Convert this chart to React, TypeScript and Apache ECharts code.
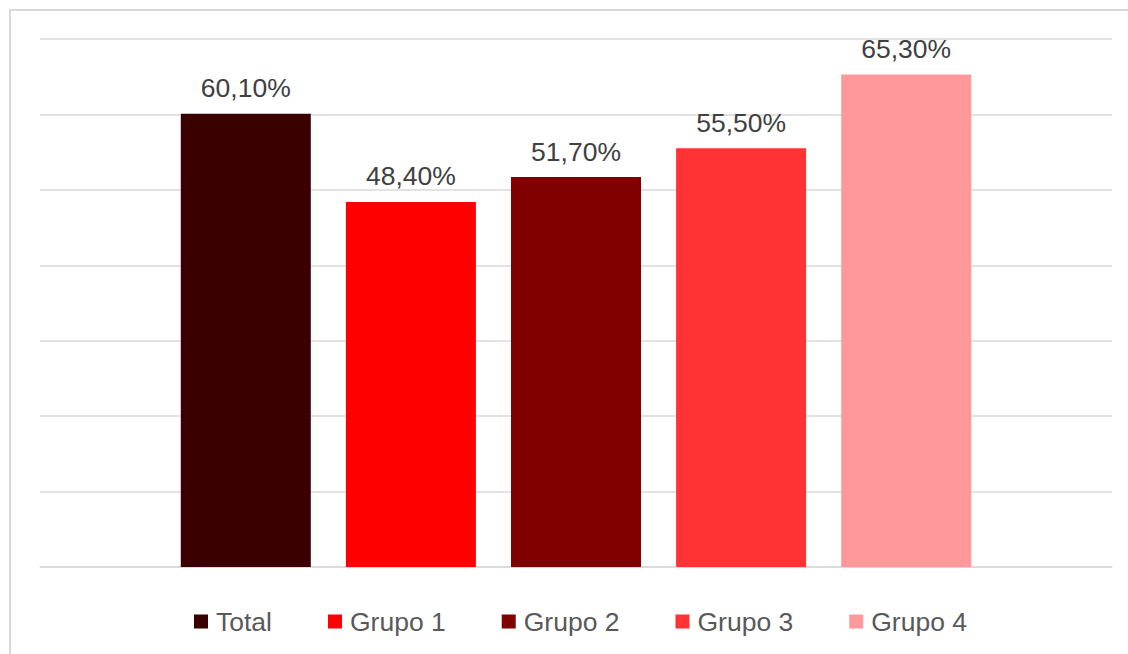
import React, { useEffect, useRef } from "react";
import * as echarts from "echarts";

const seriesNames = ["Total", "Grupo 1", "Grupo 2", "Grupo 3", "Grupo 4"];
const seriesValues = [60.1, 48.4, 51.7, 55.5, 65.3];
const seriesColors = ["#3a0000", "#ff0000", "#800000", "#ff3333", "#ff9999"];
const categories = [""];

export default function App() {
  const ref = useRef<HTMLDivElement>(null);
  useEffect(() => {
    if (!ref.current) return;
    const chart = echarts.init(ref.current, undefined, { renderer: "svg" });
    const font = "'Liberation Sans', Arial, sans-serif";
    chart.setOption({
      animation: false,
      backgroundColor: "#ffffff",
      textStyle: { fontFamily: font },
      graphic: [
        {
          type: "rect",
          shape: { x: 10, y: 10, width: 1200, height: 700 },
          style: { fill: "none", stroke: "#d9d9d9", lineWidth: 2 },
          silent: true,
        },
      ],
      grid: { left: 40, right: 16, top: 39, bottom: 87 },
      legend: {
        bottom: 14,
        left: 189,
        icon: "rect",
        itemWidth: 14,
        itemHeight: 14,
        itemGap: 56,
        textStyle: {
          color: "#595959",
          fontSize: 26.5,
          fontFamily: font,
          padding: [0, 0, 0, 3],
        },
        data: seriesNames,
      },
      xAxis: {
        type: "category",
        data: categories,
        axisLine: { show: true, lineStyle: { color: "#d9d9d9", width: 1.5 } },
        axisTick: { show: false },
        axisLabel: { show: false },
      },
      yAxis: {
        type: "value",
        min: 0,
        max: 70,
        interval: 10,
        axisLabel: { show: false },
        axisLine: { show: false },
        axisTick: { show: false },
        splitLine: { lineStyle: { color: "#d9d9d9", width: 1.5 } },
      },
      series: seriesNames.map((name, i) => ({
        name,
        type: "bar",
        data: [seriesValues[i]],
        barWidth: 130,
        barGap: "27%",
        itemStyle: { color: seriesColors[i] },
        label: {
          show: true,
          position: "top",
          distance: 12,
          color: "#404040",
          fontSize: 26.5,
          fontFamily: font,
          formatter: (p: any) => p.value.toFixed(2).replace(".", ",") + "%",
        },
      })),
    });
    return () => chart.dispose();
  }, []);
  return (
    <div
      ref={ref}
      style={{ position: "fixed", left: 0, top: 0, width: 1128, height: 654 }}
    />
  );
}
